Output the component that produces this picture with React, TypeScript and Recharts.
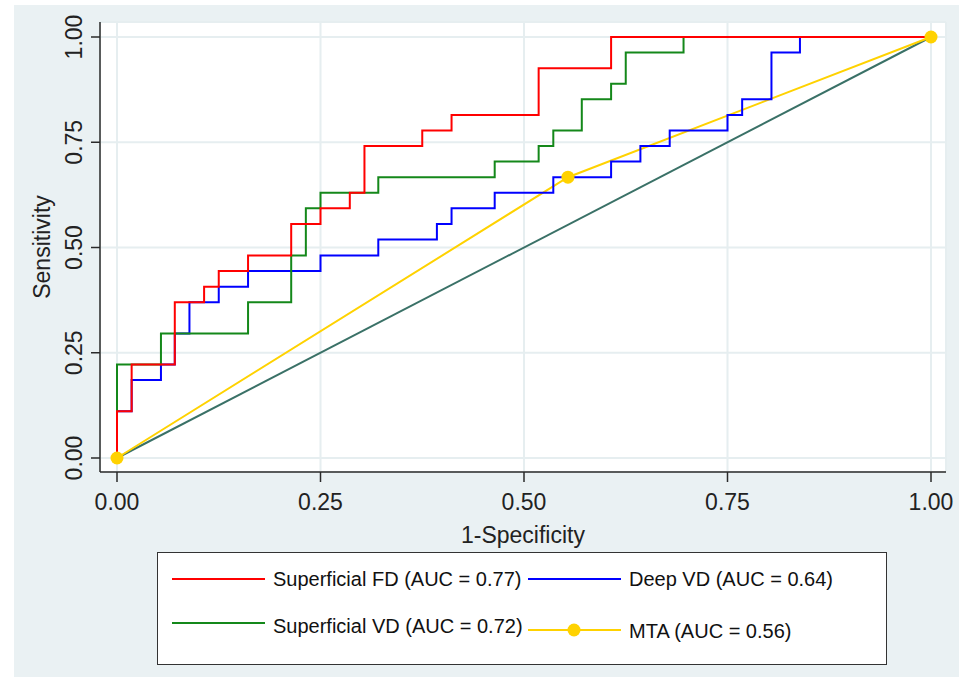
import { LineChart, Line, XAxis, YAxis, CartesianGrid } from 'recharts';

// ROC vertices (1-specificity, sensitivity), drawn as steps
const fdFpr = [0, 0, 0.018, 0.071, 0.107, 0.125, 0.161, 0.214, 0.25, 0.286, 0.304, 0.375, 0.411, 0.518, 0.607, 1];
const fdTpr = [0, 0.111, 0.222, 0.37, 0.407, 0.444, 0.481, 0.556, 0.593, 0.63, 0.741, 0.778, 0.815, 0.926, 1, 1];

const svdFpr = [0, 0, 0.054, 0.161, 0.214, 0.232, 0.25, 0.321, 0.464, 0.518, 0.536, 0.571, 0.607, 0.625, 0.696, 1];
const svdTpr = [0, 0.222, 0.296, 0.37, 0.481, 0.593, 0.63, 0.667, 0.704, 0.741, 0.778, 0.852, 0.889, 0.963, 1, 1];

const dvdFpr = [0, 0, 0.018, 0.054, 0.071, 0.089, 0.125, 0.161, 0.25, 0.321, 0.393, 0.411, 0.464, 0.536, 0.607, 0.643, 0.679, 0.75, 0.768, 0.804, 0.839, 1];
const dvdTpr = [0, 0.111, 0.185, 0.222, 0.296, 0.37, 0.407, 0.444, 0.481, 0.519, 0.556, 0.593, 0.63, 0.667, 0.704, 0.741, 0.778, 0.815, 0.852, 0.963, 1, 1];

const mtaFpr = [0, 0.554, 1];
const mtaTpr = [0, 0.667, 1];

const refFpr = [0, 1];
const refTpr = [0, 1];

const ticks = [0, 0.25, 0.5, 0.75, 1];

const legendItems = [
  { label: 'Superficial FD (AUC = 0.77)', color: '#ff0000', dot: false },
  { label: 'Deep VD (AUC = 0.64)', color: '#0000ff', dot: false },
  { label: 'Superficial VD (AUC = 0.72)', color: '#14881a', dot: false },
  { label: 'MTA (AUC = 0.56)', color: '#ffd200', dot: true },
];

const toPoints = (xs: number[], ys: number[]) => xs.map((x, i) => ({ x, y: ys[i] }));

const FONT = '"Liberation Sans", Arial, sans-serif';
const BG = '#eaf1f3';
const GRID = '#e6eef0';
const AXIS = '#2a2a2a';

function XTick({ x, y, payload }: any) {
  return (
    <text x={x} y={y + 26} textAnchor="middle" fontSize={23} fontFamily={FONT} fill="#222">
      {Number(payload.value).toFixed(2)}
    </text>
  );
}

function YTick({ x, y, payload }: any) {
  const tx = x - 7;
  return (
    <text
      x={tx}
      y={y}
      transform={`rotate(-90 ${tx} ${y})`}
      textAnchor="middle"
      fontSize={23}
      fontFamily={FONT}
      fill="#222"
    >
      {Number(payload.value).toFixed(2)}
    </text>
  );
}

function YTitle(props: any) {
  const vb = props.viewBox || { x: 40, y: 22, width: 60, height: 450 };
  const cx = vb.x + 10;
  const cy = vb.y + vb.height / 2;
  return (
    <text x={cx} y={cy} transform={`rotate(-90 ${cx} ${cy})`} textAnchor="middle" fontSize={23} fontFamily={FONT} fill="#222">
      Sensitivity
    </text>
  );
}

function XTitle(props: any) {
  const vb = props.viewBox || { x: 100, y: 472, width: 846, height: 60 };
  return (
    <text x={vb.x + vb.width / 2} y={vb.y + 71} textAnchor="middle" fontSize={23} fontFamily={FONT} fill="#222">
      1-Specificity
    </text>
  );
}

function RocLegend() {
  const cells = [
    { left: 14, top: 14, item: legendItems[0], textTop: 14 },
    { left: 370, top: 14, item: legendItems[1], textTop: 14 },
    { left: 14, top: 58, item: legendItems[2], textTop: 61 },
    { left: 370, top: 58, item: legendItems[3], textTop: 66 },
  ];
  return (
    <div
      style={{
        position: 'absolute',
        left: 157,
        top: 552,
        width: 728,
        height: 111,
        background: '#fff',
        border: '1.5px solid #333',
        fontFamily: FONT,
        fontSize: 20,
        color: '#111',
      }}
    >
      {cells.map(({ left, top, item, textTop }) => (
        <div key={item.label}>
          <svg style={{ position: 'absolute', left, top, overflow: 'visible' }} width={94} height={24}>
            <line x1={0} y1={item.dot ? 19 : 12} x2={93} y2={item.dot ? 19 : 12} stroke={item.color} strokeWidth={2} />
            {item.dot && <circle cx={46} cy={19} r={6.5} fill={item.color} />}
          </svg>
          <div style={{ position: 'absolute', left: left + 101, top: textTop, whiteSpace: 'nowrap', lineHeight: '24px' }}>
            {item.label}
          </div>
        </div>
      ))}
    </div>
  );
}

export default function App() {
  return (
    <div style={{ position: 'absolute', left: 0, top: 0, width: 959, height: 677, background: '#fff', overflow: 'hidden' }}>
      <div style={{ position: 'absolute', left: 14, top: 5, width: 945, height: 672, background: BG }} />
      <div style={{ position: 'absolute', left: 0, top: 0 }}>
        <LineChart width={959} height={677} margin={{ top: 22, right: 13, bottom: 145, left: 40 }}>
          <CartesianGrid fill="#fff" stroke={GRID} strokeWidth={2} />
          <XAxis
            type="number"
            dataKey="x"
            domain={[0, 1]}
            ticks={ticks}
            padding={{ left: 17, right: 15 }}
            height={60}
            tickSize={10}
            tickLine={{ stroke: AXIS, strokeWidth: 1.5 }}
            axisLine={{ stroke: AXIS, strokeWidth: 1.5 }}
            tick={<XTick />}
            label={<XTitle />}
            allowDuplicatedCategory={false}
          />
          <YAxis
            type="number"
            dataKey="y"
            domain={[0, 1]}
            ticks={ticks}
            padding={{ top: 15, bottom: 14 }}
            width={60}
            tickSize={9}
            tickLine={{ stroke: AXIS, strokeWidth: 1.5 }}
            axisLine={{ stroke: AXIS, strokeWidth: 1.5 }}
            tick={<YTick />}
            label={<YTitle />}
          />
          <Line
            data={toPoints(refFpr, refTpr)}
            dataKey="y"
            type="linear"
            stroke="#3a7167"
            strokeWidth={2}
            dot={false}
            isAnimationActive={false}
          />
          <Line
            data={toPoints(mtaFpr, mtaTpr)}
            dataKey="y"
            type="linear"
            stroke="#ffd200"
            strokeWidth={2}
            dot={{ r: 6.5, fill: '#ffd200', stroke: 'none' }}
            isAnimationActive={false}
          />
          <Line
            data={toPoints(dvdFpr, dvdTpr)}
            dataKey="y"
            type="stepAfter"
            stroke="#0000ff"
            strokeWidth={2}
            dot={false}
            isAnimationActive={false}
          />
          <Line
            data={toPoints(svdFpr, svdTpr)}
            dataKey="y"
            type="stepAfter"
            stroke="#14881a"
            strokeWidth={2}
            dot={false}
            isAnimationActive={false}
          />
          <Line
            data={toPoints(fdFpr, fdTpr)}
            dataKey="y"
            type="stepAfter"
            stroke="#ff0000"
            strokeWidth={2}
            dot={false}
            isAnimationActive={false}
          />
        </LineChart>
      </div>
      <RocLegend />
    </div>
  );
}
